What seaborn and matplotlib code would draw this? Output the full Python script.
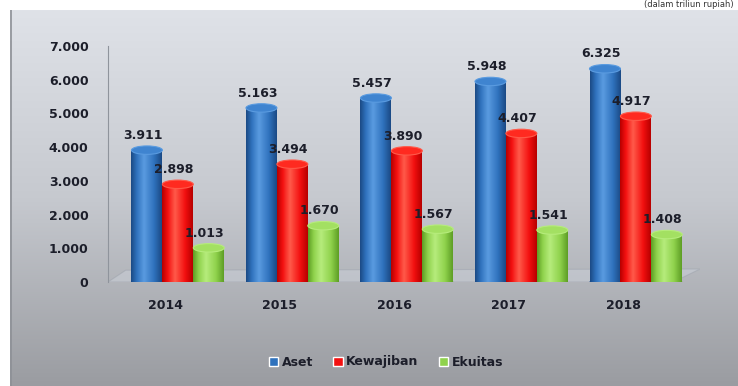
import numpy as np
import pandas as pd
import matplotlib
matplotlib.use("Agg")
import matplotlib.pyplot as plt
from matplotlib.colors import LinearSegmentedColormap
from matplotlib.patches import Ellipse, Polygon
import seaborn as sns

# ---- data (triliun rupiah) ----
years = ["2014", "2015", "2016", "2017", "2018"]
aset = [3911, 5163, 5457, 5948, 6325]
kewajiban = [2898, 3494, 3890, 4407, 4917]
ekuitas = [1013, 1670, 1567, 1541, 1408]
series_names = ["Aset", "Kewajiban", "Ekuitas"]
y_ticks = [0, 1000, 2000, 3000, 4000, 5000, 6000, 7000]

df = pd.DataFrame({
    "Tahun": years * 3,
    "Seri": sum([[s] * len(years) for s in series_names], []),
    "Nilai": aset + kewajiban + ekuitas,
})

base_colors = {"Aset": "#2f72bd", "Kewajiban": "#f31010", "Ekuitas": "#8fd24c"}
shade = {
    "Aset": ("#1b4a85", "#2f72bd", "#5a9be0"),
    "Kewajiban": ("#b80000", "#f31010", "#ff5a4a"),
    "Ekuitas": ("#5e9e25", "#8fd24c", "#b6ec7c"),
}
cap_colors = {"Aset": "#3f84d0", "Kewajiban": "#ff2a20", "Ekuitas": "#a3e062"}

def fmt(v):
    return f"{v:,.0f}".replace(",", ".")

sns.set_theme(style="white")
plt.rcParams["font.family"] = ["DejaVu Sans"]

W, H = 738, 386
fig = plt.figure(figsize=(W / 100, H / 100), dpi=100)
fig.patch.set_facecolor("white")

# panel background with vertical gradient
bg = fig.add_axes([10 / W, 0, 1 - 10 / W, (H - 10) / H], zorder=0)
grad = np.linspace(0, 1, 256)[:, None]
bg_cmap = LinearSegmentedColormap.from_list("panel", ["#dfe2e8", "#c6c9cf", "#9a9ca1"])
bg.imshow(grad, aspect="auto", cmap=bg_cmap, extent=(0, 1, 0, 1), origin="upper")
bg.set_xlim(0, 1)
bg.set_ylim(0, 1)
bg.set_xticks([])
bg.set_yticks([])
for s in bg.spines.values():
    s.set_visible(False)
bg.axvline(0.001, color="#8d9096", lw=1.2)

# main axes
ax_l, ax_r = 108 / W, 700 / W
ax_b, ax_t = (H - 282) / H, (H - 46) / H
ax = fig.add_axes([ax_l, ax_b, ax_r - ax_l, ax_t - ax_b], zorder=1)
ax.patch.set_alpha(0)

sns.barplot(data=df, x="Tahun", y="Nilai", hue="Seri", order=years,
            hue_order=series_names, palette=base_colors, width=0.81,
            saturation=1, dodge=True, ax=ax, legend=True)

xmin, xmax = -0.61, 4.56
ymin, ymax = 0, 7000

# floor of the 3D base
floor = Polygon([(0.0, 0.0), (0.955, 0.0), (1.0, 0.055), (0.03, 0.05)],
                closed=True, transform=ax.transAxes, facecolor="#cfd5de",
                edgecolor="#9aa0aa", lw=0.8, alpha=0.45, zorder=1)
ax.add_patch(floor)

cap_h = 250  # height of the elliptical cap in data units
handles, labels = ax.get_legend_handles_labels()
ax.get_legend().remove()

n = len(years)
for i, name in enumerate(series_names):
    dark, mid, light = shade[name]
    cmap = LinearSegmentedColormap.from_list(
        name, [(0, dark), (0.18, mid), (0.42, light), (0.75, mid), (1, dark)])
    row = np.linspace(0, 1, 64)[None, :]
    vals = df[df["Seri"] == name]["Nilai"].tolist()
    for j in range(n):
        p = ax.patches[i * n + j]
        x0, w, h = p.get_x(), p.get_width(), p.get_height()
        p.set_facecolor("none")
        p.set_edgecolor("none")
        # rounded bottom of the cylinder
        ax.add_patch(Ellipse((x0 + w / 2, 0), w, cap_h, facecolor=dark,
                             edgecolor="none", zorder=2))
        ax.imshow(row, cmap=cmap, aspect="auto", extent=(x0, x0 + w, 0, h),
                  zorder=3, interpolation="bilinear")
        ax.add_patch(Ellipse((x0 + w / 2, h), w, cap_h, facecolor=cap_colors[name],
                             edgecolor=light, lw=0.8, zorder=4))
        ax.annotate(fmt(vals[j]), (x0 + w / 2, h), xytext=(-3, 6),
                    textcoords="offset points", ha="center", va="bottom",
                    fontsize=9, fontweight="bold", color="#1c1e2a", zorder=6)

ax.set_xlim(xmin, xmax)
ax.set_ylim(ymin, ymax)
ax.set_xticks(np.arange(n) - 0.11, years)
ax.set_yticks(y_ticks, [fmt(v) for v in y_ticks])
ax.set_xlabel("")
ax.set_ylabel("")
ax.tick_params(axis="x", length=0, pad=12, labelsize=9, labelcolor="#1c1e2a")
ax.tick_params(axis="y", length=0, pad=14, labelsize=9, labelcolor="#1c1e2a")
for lab in ax.get_xticklabels() + ax.get_yticklabels():
    lab.set_fontweight("bold")
for side in ["top", "right", "bottom"]:
    ax.spines[side].set_visible(False)
ax.spines["left"].set_color("#8f949c")
ax.spines["left"].set_linewidth(0.8)

leg = fig.legend(handles, labels, loc="center", bbox_to_anchor=(386 / W, 24 / H),
                 ncol=3, frameon=False, handlelength=0.75, handleheight=0.75,
                 handletextpad=0.3, columnspacing=1.6,
                 prop={"weight": "bold", "size": 9})
for t in leg.get_texts():
    t.set_color("#1c1e2a")

fig.text(734 / W, 1 - 4.5 / H, "(dalam triliun rupiah)", ha="right", va="center",
         fontsize=6, color="#333333")

fig.savefig("out.png", dpi=100)
